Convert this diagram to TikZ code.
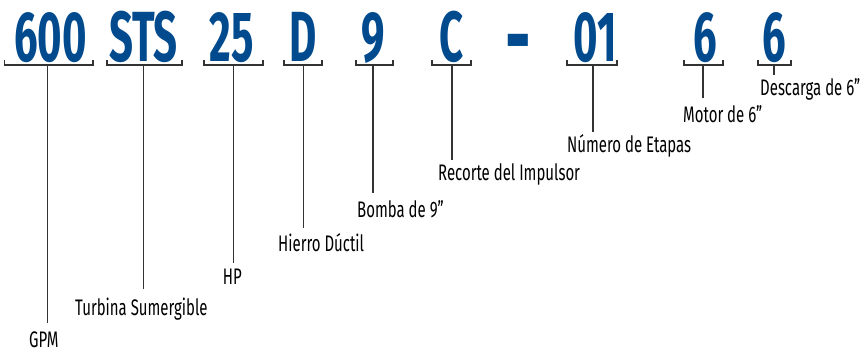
\documentclass[tikz,border=0pt]{standalone}
\usepackage{fontspec}
\setmainfont{Fira Sans}[FakeStretch=0.665]
\newfontfamily\codefont{Fira Sans}[FakeStretch=0.59]
\definecolor{codeblue}{HTML}{004A8D}
\definecolor{lncol}{HTML}{333333}
\tikzset{
  code/.style={font=\codefont\bfseries\fontsize{71}{71}\selectfont, text=codeblue, inner sep=0pt, anchor=base},
  lab/.style={font=\fontsize{22.5}{24}\selectfont, inner sep=0pt, anchor=base west},
  ln/.style={line width=1.3pt, draw=lncol},
}
\begin{document}
\begin{tikzpicture}[x=1pt,y=-1pt]
\useasboundingbox (0,0) rectangle (864,352);
% codes
\node[code] (c1) at (50.5,62) {600};
\node[code] (c2) at (143.5,62) {STS};
\node[code] (c3) at (232,62) {25};
\node[code] (c4) at (303,62) {D};
\node[code] (c5) at (373.5,62) {9};
\node[code] (c6) at (452,62) {C};
\node[code] (dash) at (518,72) {\scalebox{1.5}[1.4]{-}};
\node[code] (c7) at (595,62) {01};
\node[code] (c8) at (705,62) {6};
\node[code] (c9) at (774,62) {6};
% brackets
\draw[ln] (4.7,60) -- (4.7,65) -- (93,65) -- (93,60);
\draw[ln] (107,60) -- (107,65) -- (182,65) -- (182,60);
\draw[ln] (204,60) -- (204,65) -- (263,65) -- (263,60);
\draw[ln] (284,60) -- (284,65) -- (322,65) -- (322,60);
\draw[ln] (356,60) -- (356,65) -- (393,65) -- (393,60);
\draw[ln] (432,60) -- (432,65) -- (471,65) -- (471,60);
\draw[ln] (567,60) -- (567,65) -- (617,65) -- (617,60);
\draw[ln] (684,60) -- (684,65) -- (723,65) -- (723,60);
\draw[ln] (758,60) -- (758,65) -- (791,65) -- (791,60);
% bracket points
\coordinate (b1) at (47.7,65);
\coordinate (b2) at (143.7,65);
\coordinate (b3) at (233.3,65);
\coordinate (b4) at (303.3,65);
\coordinate (b5) at (373,65);
\coordinate (b6) at (452,65);
\coordinate (b7) at (593,65);
\coordinate (b8) at (703,65);
\coordinate (b9) at (774,65);
% line ends
\coordinate (e1) at (47.7,323);
\coordinate (e2) at (143.7,289);
\coordinate (e3) at (233.3,263);
\coordinate (e4) at (303.3,228);
\coordinate (e5) at (373,193);
\coordinate (e6) at (452,160);
\coordinate (e7) at (593,132);
\coordinate (e8) at (703,98);
\coordinate (e9) at (774,75);
% labels
\node[lab] (l1) at (29,347) {GPM};
\node[lab] (l2) at (75,316) {Turbina Sumergible};
\node[lab] (l3) at (222.7,285) {HP};
\node[lab] (l4) at (278,252) {Hierro Dúctil};
\node[lab] (l5) at (357,218) {Bomba de 9”};
\node[lab] (l6) at (438,181) {Recorte del Impulsor};
\node[lab] (l7) at (567,153) {Número de Etapas};
\node[lab] (l8) at (683,123) {Motor de 6”};
\node[lab] (l9) at (760,96) {Descarga de 6”};
% connectors
\foreach \i in {1,...,9} \draw[ln] (b\i) -- (e\i);
\end{tikzpicture}
\end{document}
